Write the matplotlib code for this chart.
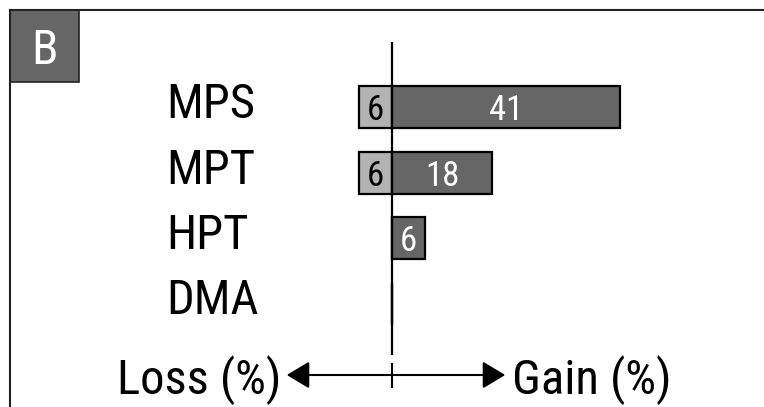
import matplotlib
matplotlib.use("Agg")
import matplotlib.pyplot as plt
from matplotlib.patches import Rectangle, FancyArrowPatch
from matplotlib.lines import Line2D
from matplotlib.transforms import blended_transform_factory

categories = ["MPS", "MPT", "HPT", "DMA"]
loss = [6, 6, 0, 0]
gain = [41, 18, 6, 0]
panel_label = "B"
loss_label = "Loss (%)"
gain_label = "Gain (%)"

FONT = ['Roboto Condensed', 'DejaVu Sans']
WT = 'normal'
W, H = 764, 407
fig = plt.figure(figsize=(W / 100, H / 100), dpi=100)


def fx(px):
    return px / W


def fy(py):
    return 1 - py / H


ax = fig.add_axes([0, 0, 1, 1])
ax.axis('off')
scale = 228 / 41.0  # px per unit
ax.set_xlim(-392 / scale, (W - 392) / scale)
row = 65.5
c0 = 107
ax.set_ylim((H - c0) / row, (0 - c0) / row)

dark = '#666666'
light = '#b3b3b3'
ypos = list(range(len(categories)))
bh = 42 / row

ax.barh(ypos, [-v for v in loss], height=bh, color=light, edgecolor='black', linewidth=1.6, zorder=2)
ax.barh(ypos, gain, height=bh, color=dark, edgecolor='black', linewidth=1.6, zorder=2)

for y, l, g in zip(ypos, loss, gain):
    if l > 0:
        ax.text(-l / 2, y, str(l), ha='center', va='center_baseline', fontsize=25,
                color='black', family=FONT, weight=WT, zorder=4)
    if g > 0:
        ax.text(g / 2, y, str(g), ha='center', va='center_baseline', fontsize=25,
                color='white', family=FONT, weight=WT, zorder=4)

# category labels
lab_tr = blended_transform_factory(fig.transFigure, ax.transData)
for y, c in zip(ypos, categories):
    ax.text(fx(166), y + 11 / row, c, transform=lab_tr,
            ha='left', va='baseline', fontsize=35, family=FONT, weight=WT)

# zero line
ax.vlines(0, (42 - c0) / row, (355 - c0) / row, color='black', linewidth=1.6, zorder=3)

# frame
fig.add_artist(Line2D([fx(10), 1], [fy(10), fy(10)], color='#222222', linewidth=1.5))
fig.add_artist(Line2D([fx(10), fx(10)], [fy(10), 0], color='#222222', linewidth=1.5))

# panel label box
fig.add_artist(Rectangle((fx(10), fy(82)), fx(79) - fx(10), fy(10) - fy(82),
                         facecolor=dark, edgecolor='#222222', linewidth=1.2, transform=fig.transFigure))
fig.text(fx(44.5), fy(46), panel_label, ha='center', va='center_baseline', fontsize=35,
         color='white', family=FONT, weight=WT)

# bottom arrow
arr = FancyArrowPatch((fx(284), fy(375)), (fx(508), fy(375)), transform=fig.transFigure,
                      arrowstyle='<|-|>,head_length=0.5,head_width=0.3', mutation_scale=28,
                      color='black', linewidth=1.5)
fig.add_artist(arr)
fig.add_artist(Line2D([fx(392), fx(392)], [fy(364), fy(387)], color='black', linewidth=1.5))
fig.text(fx(281), fy(375), loss_label, ha='right', va='center_baseline', fontsize=35, family=FONT, weight=WT)
fig.text(fx(512), fy(375), gain_label, ha='left', va='center_baseline', fontsize=35, family=FONT, weight=WT)

fig.savefig('out.png', dpi=100)
